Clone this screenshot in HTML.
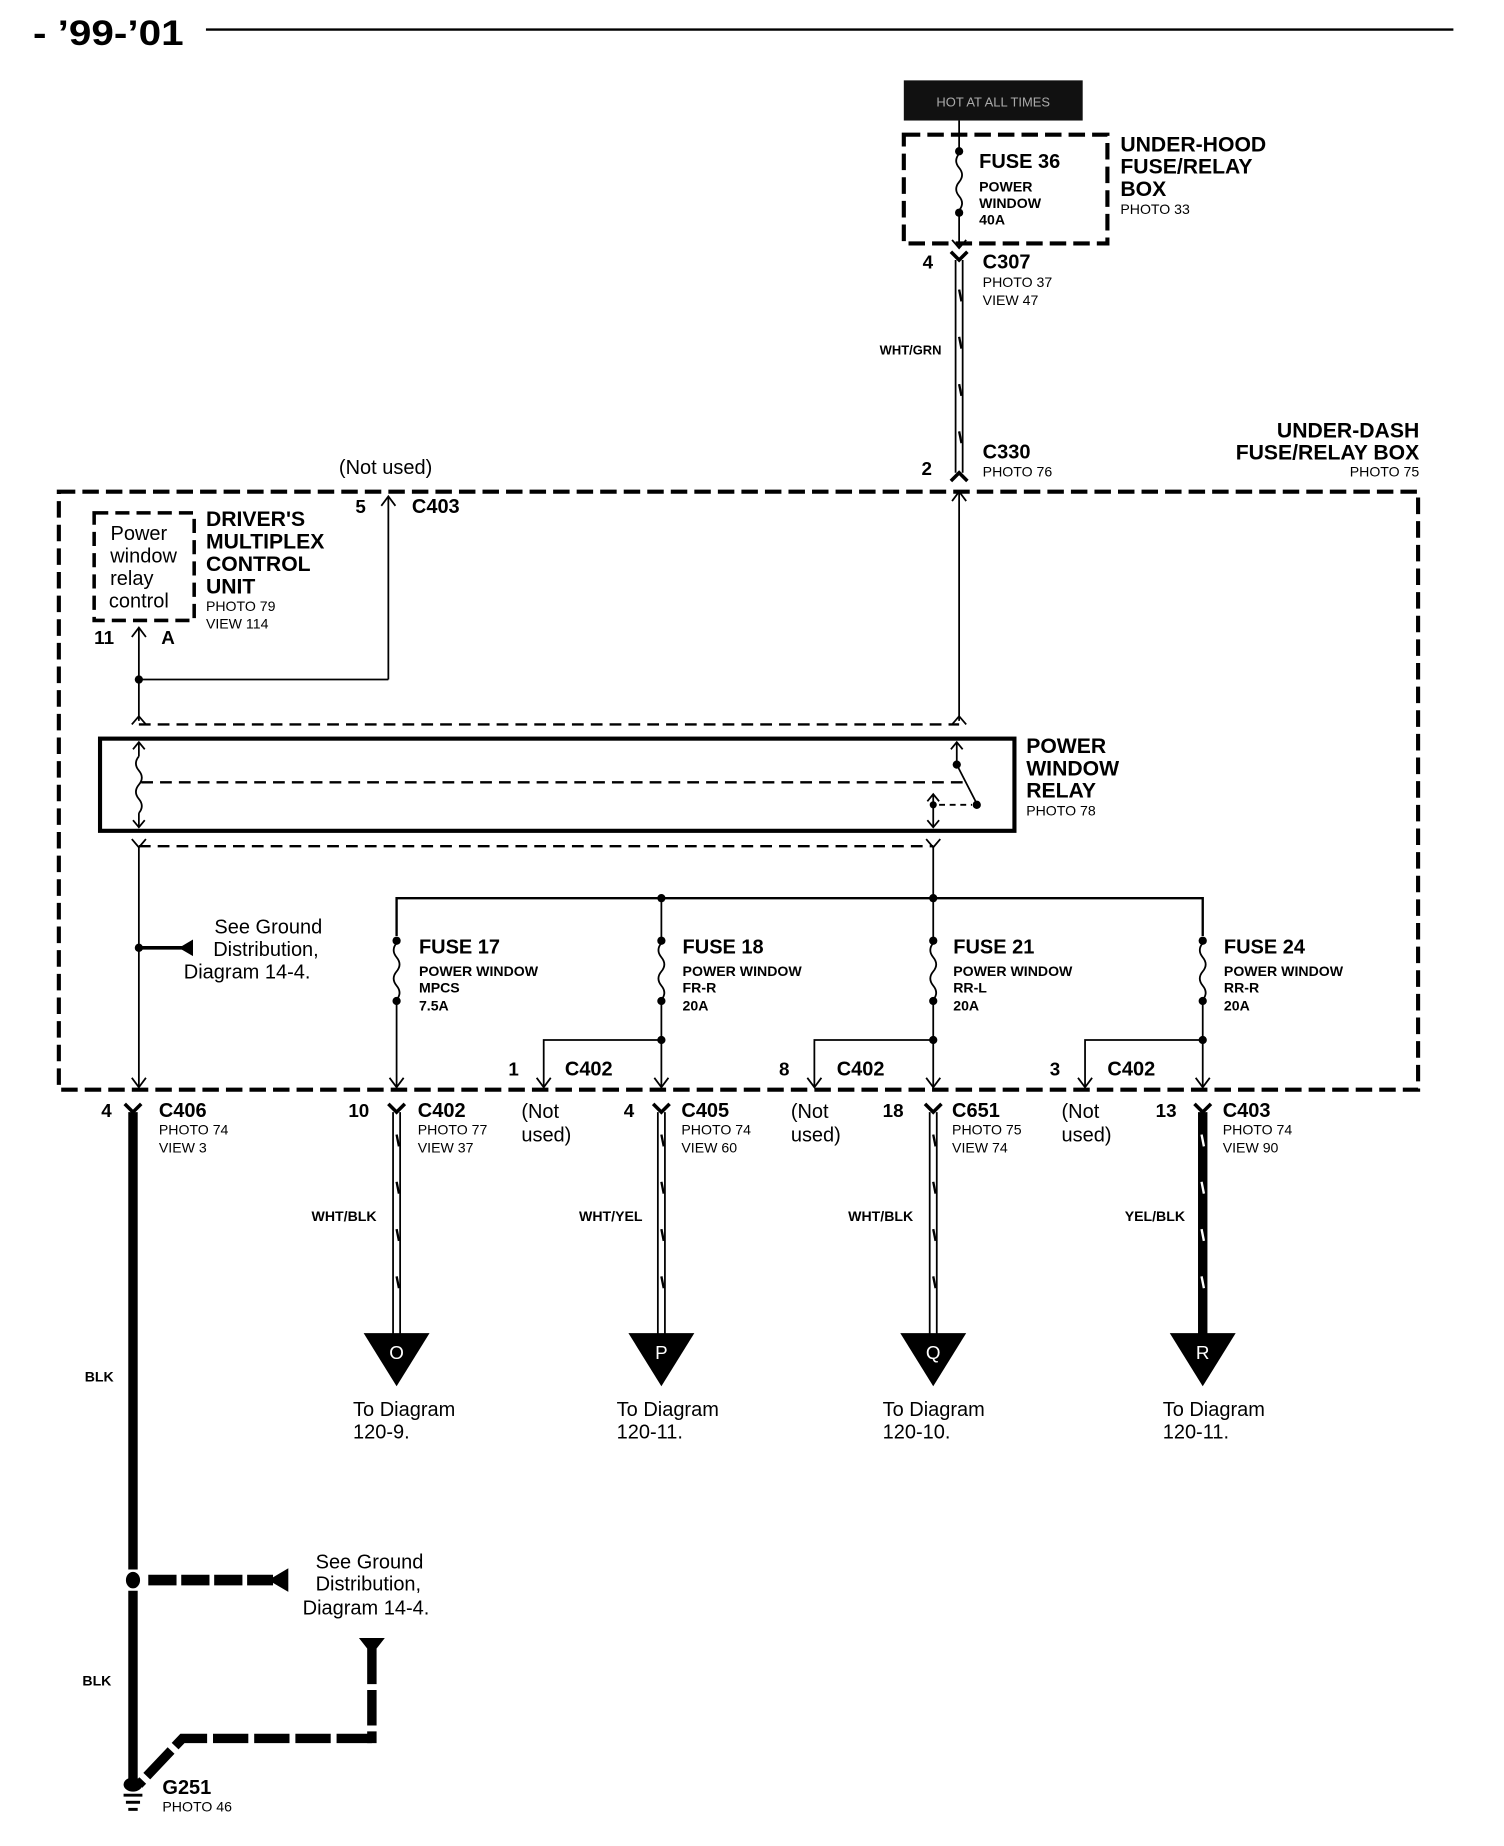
<!DOCTYPE html>
<html><head><meta charset="utf-8"><style>
html,body{margin:0;padding:0;background:#fff;}
svg{display:block;}
text{font-family:"Liberation Sans",sans-serif;fill:#000;}
.b{font-weight:bold;}
</style></head><body>
<svg width="1504" height="1846" viewBox="0 0 1278 1562" preserveAspectRatio="none" xmlns="http://www.w3.org/2000/svg">
<defs>
<g id="fz"><path d="M0,0 q-5,6 0,12 q5,6 0,12 q-5,6 0,12 q5,6 0,12" fill="none" stroke="#000" stroke-width="1.5"/></g>
</defs>
<g>
<!-- header -->
<text x="28" y="38" class="b" font-size="30" textLength="128" lengthAdjust="spacingAndGlyphs">- ’99-’01</text>
<line x1="175" y1="25" x2="1235" y2="25" stroke="#000" stroke-width="2"/>
<!-- hot at all times -->
<rect x="768" y="68" width="152" height="34" fill="#111"/>
<text x="844" y="90" font-size="11" style="fill:#aaa" text-anchor="middle">HOT AT ALL TIMES</text>
<!-- under-hood box -->
<rect x="768" y="114" width="173" height="92" fill="none" stroke="#000" stroke-width="3.5" stroke-dasharray="14,6"/>
<line x1="815" y1="102" x2="815" y2="128" stroke="#000" stroke-width="1.5"/>
<circle cx="815" cy="128" r="3.5"/>
<use href="#fz" x="815" y="130"/>
<circle cx="815" cy="180" r="3.5"/>
<line x1="815" y1="180" x2="815" y2="210" stroke="#000" stroke-width="1.5"/>
<path d="M809,203 L815,210 L821,203" fill="none" stroke="#000" stroke-width="1.5"/>
<text x="832" y="142" class="b" font-size="17">FUSE 36</text>
<text x="832" y="162" class="b" font-size="12">POWER</text>
<text x="832" y="176" class="b" font-size="12">WINDOW</text>
<text x="832" y="190" class="b" font-size="12">40A</text>
<text x="952" y="128" class="b" font-size="18">UNDER-HOOD</text>
<text x="952" y="147" class="b" font-size="18">FUSE/RELAY</text>
<text x="952" y="166" class="b" font-size="18">BOX</text>
<text x="952" y="181" font-size="12">PHOTO 33</text>
<!-- C307 -->
<path d="M808,213 L815,220 L822,213" fill="none" stroke="#000" stroke-width="3"/>
<text x="784" y="227" class="b" font-size="16">4</text>
<text x="835" y="227" class="b" font-size="17">C307</text>
<text x="835" y="243" font-size="12">PHOTO 37</text>
<text x="835" y="258" font-size="12">VIEW 47</text>
<line x1="812" y1="220" x2="812" y2="400" stroke="#000" stroke-width="1.5"/>
<line x1="818" y1="220" x2="818" y2="400" stroke="#000" stroke-width="1.5"/>
<path d="M815,245 l2,10 M815,285 l2,10 M815,325 l2,10 M815,365 l2,10" stroke="#000" stroke-width="2"/>
<text x="800" y="300" class="b" font-size="11" text-anchor="end">WHT/GRN</text>
<!-- C330 -->
<path d="M808,407 L815,400 L822,407" fill="none" stroke="#000" stroke-width="3"/>
<text x="783" y="402" class="b" font-size="16">2</text>
<text x="835" y="388" class="b" font-size="17">C330</text>
<text x="835" y="403" font-size="12">PHOTO 76</text>
<text x="1206" y="370" class="b" font-size="18" text-anchor="end">UNDER-DASH</text>
<text x="1206" y="389" class="b" font-size="18" text-anchor="end">FUSE/RELAY BOX</text>
<text x="1206" y="403" font-size="12" text-anchor="end">PHOTO 75</text>
<!-- main box -->
<rect x="50" y="416" width="1155" height="506" fill="none" stroke="#000" stroke-width="3.5" stroke-dasharray="14,6"/>
<text x="288" y="401" font-size="17">(Not used)</text>
<text x="302" y="434" class="b" font-size="16">5</text>
<text x="350" y="434" class="b" font-size="17">C403</text>
<line x1="330" y1="420" x2="330" y2="575" stroke="#000" stroke-width="1.5"/>
<path d="M324,428 L330,420 L336,428" fill="none" stroke="#000" stroke-width="1.5"/>
<line x1="815" y1="416" x2="815" y2="610" stroke="#000" stroke-width="1.5"/>
<path d="M809,424 L815,416 L821,424" fill="none" stroke="#000" stroke-width="1.5"/>
<!-- driver's unit -->
<rect x="80" y="434" width="85" height="91" fill="none" stroke="#000" stroke-width="3" stroke-dasharray="12,6"/>
<text x="118" y="457" font-size="17" text-anchor="middle">Power</text>
<text x="122" y="476" font-size="17" text-anchor="middle">window</text>
<text x="112" y="495" font-size="17" text-anchor="middle">relay</text>
<text x="118" y="514" font-size="17" text-anchor="middle">control</text>
<text x="175" y="445" class="b" font-size="18">DRIVER'S</text>
<text x="175" y="464" class="b" font-size="18">MULTIPLEX</text>
<text x="175" y="483" class="b" font-size="18">CONTROL</text>
<text x="175" y="502" class="b" font-size="18">UNIT</text>
<text x="175" y="517" font-size="12">PHOTO 79</text>
<text x="175" y="532" font-size="12">VIEW 114</text>
<text x="80" y="545" class="b" font-size="16">11</text>
<text x="137" y="545" class="b" font-size="16">A</text>
<line x1="118" y1="531" x2="118" y2="610" stroke="#000" stroke-width="1.5"/>
<path d="M112,539 L118,531 L124,539" fill="none" stroke="#000" stroke-width="1.5"/>
<circle cx="118" cy="575" r="3.5"/>
<line x1="118" y1="575" x2="330" y2="575" stroke="#000" stroke-width="1.5"/>
<line x1="118" y1="613" x2="815" y2="613" stroke="#000" stroke-width="2" stroke-dasharray="10,6"/>
<path d="M112,613 L118,606 L124,613 M809,613 L815,606 L821,613" fill="none" stroke="#000" stroke-width="1.5"/>
<!-- relay -->
<rect x="85" y="625" width="777" height="78" fill="none" stroke="#000" stroke-width="3.5"/>
<line x1="118" y1="628" x2="118" y2="640" stroke="#000" stroke-width="1.5"/>
<use href="#fz" x="118" y="640"/>
<line x1="118" y1="688" x2="118" y2="700" stroke="#000" stroke-width="1.5"/>
<path d="M113,634 L118,628 L123,634 M113,694 L118,700 L123,694" fill="none" stroke="#000" stroke-width="1.5"/>
<line x1="120" y1="662" x2="818" y2="662" stroke="#000" stroke-width="2" stroke-dasharray="10,6"/>
<line x1="813" y1="628" x2="813" y2="647" stroke="#000" stroke-width="1.5"/>
<path d="M808,634 L813,628 L818,634" fill="none" stroke="#000" stroke-width="1.5"/>
<circle cx="813" cy="647" r="3.5"/>
<line x1="813" y1="647" x2="830" y2="680" stroke="#000" stroke-width="1.5"/>
<circle cx="830" cy="681" r="3.5"/>
<line x1="798" y1="681" x2="826" y2="681" stroke="#000" stroke-width="1.5" stroke-dasharray="5,4"/>
<circle cx="793" cy="681" r="3"/>
<line x1="793" y1="672" x2="793" y2="700" stroke="#000" stroke-width="1.5"/>
<path d="M788,678 L793,672 L798,678 M788,694 L793,700 L798,694" fill="none" stroke="#000" stroke-width="1.5"/>
<text x="872" y="637" class="b" font-size="18">POWER</text>
<text x="872" y="656" class="b" font-size="18">WINDOW</text>
<text x="872" y="675" class="b" font-size="18">RELAY</text>
<text x="872" y="690" font-size="12">PHOTO 78</text>
<line x1="118" y1="716" x2="793" y2="716" stroke="#000" stroke-width="2" stroke-dasharray="10,6"/>
<path d="M112,710 L118,717 L124,710 M787,710 L793,717 L799,710" fill="none" stroke="#000" stroke-width="1.5"/>
<line x1="118" y1="717" x2="118" y2="920" stroke="#000" stroke-width="1.5"/>
<circle cx="118" cy="802" r="3.5"/>
<line x1="118" y1="802" x2="155" y2="802" stroke="#000" stroke-width="3"/>
<polygon points="164,795 152,802 164,809" fill="#000"/>
<text x="228" y="790" font-size="17" text-anchor="middle">See Ground</text>
<text x="226" y="809" font-size="17" text-anchor="middle">Distribution,</text>
<text x="210" y="828" font-size="17" text-anchor="middle">Diagram 14-4.</text>
<!-- bus -->
<line x1="793" y1="717" x2="793" y2="760" stroke="#000" stroke-width="1.5"/>
<path d="M337,792 L337,760 L1022,760 L1022,792" fill="none" stroke="#000" stroke-width="2"/>
<circle cx="562" cy="760" r="3.5"/><circle cx="793" cy="760" r="3.5"/>
<g stroke="#000" stroke-width="1.5" fill="none">
<line x1="562" y1="760" x2="562" y2="795"/><line x1="793" y1="760" x2="793" y2="795"/>
</g>
<!-- fuses -->
<g>
<circle cx="337" cy="796" r="3.5"/><use href="#fz" x="337" y="798"/><circle cx="337" cy="847" r="3.5"/>
<circle cx="562" cy="796" r="3.5"/><use href="#fz" x="562" y="798"/><circle cx="562" cy="847" r="3.5"/>
<circle cx="793" cy="796" r="3.5"/><use href="#fz" x="793" y="798"/><circle cx="793" cy="847" r="3.5"/>
<circle cx="1022" cy="796" r="3.5"/><use href="#fz" x="1022" y="798"/><circle cx="1022" cy="847" r="3.5"/>
</g>
<g>
<text x="356" y="807" class="b" font-size="17">FUSE 17</text>
<text x="356" y="826" class="b" font-size="12">POWER WINDOW</text>
<text x="356" y="840" class="b" font-size="12">MPCS</text>
<text x="356" y="855" class="b" font-size="12">7.5A</text>
<text x="580" y="807" class="b" font-size="17">FUSE 18</text>
<text x="580" y="826" class="b" font-size="12">POWER WINDOW</text>
<text x="580" y="840" class="b" font-size="12">FR-R</text>
<text x="580" y="855" class="b" font-size="12">20A</text>
<text x="810" y="807" class="b" font-size="17">FUSE 21</text>
<text x="810" y="826" class="b" font-size="12">POWER WINDOW</text>
<text x="810" y="840" class="b" font-size="12">RR-L</text>
<text x="810" y="855" class="b" font-size="12">20A</text>
<text x="1040" y="807" class="b" font-size="17">FUSE 24</text>
<text x="1040" y="826" class="b" font-size="12">POWER WINDOW</text>
<text x="1040" y="840" class="b" font-size="12">RR-R</text>
<text x="1040" y="855" class="b" font-size="12">20A</text>
</g>
<g stroke="#000" stroke-width="1.5" fill="none">
<line x1="337" y1="847" x2="337" y2="920"/>
<line x1="562" y1="847" x2="562" y2="920"/>
<line x1="793" y1="847" x2="793" y2="920"/>
<line x1="1022" y1="847" x2="1022" y2="920"/>
<path d="M562,880 L462,880 L462,920 M793,880 L692,880 L692,920 M1022,880 L922,880 L922,920"/>
<path d="M331,912 L337,920 L343,912 M556,912 L562,920 L568,912 M787,912 L793,920 L799,912 M1016,912 L1022,920 L1028,912 M456,912 L462,920 L468,912 M686,912 L692,920 L698,912 M916,912 L922,920 L928,912 M112,912 L118,920 L124,912"/>
</g>
<circle cx="562" cy="880" r="3.5"/><circle cx="793" cy="880" r="3.5"/><circle cx="1022" cy="880" r="3.5"/>
<text x="432" y="910" class="b" font-size="16">1</text><text x="480" y="910" class="b" font-size="17">C402</text>
<text x="662" y="910" class="b" font-size="16">8</text><text x="711" y="910" class="b" font-size="17">C402</text>
<text x="892" y="910" class="b" font-size="16">3</text><text x="941" y="910" class="b" font-size="17">C402</text>
<!-- bottom connectors -->
<g stroke="#000" stroke-width="3" fill="none">
<path d="M106,934 L113,941 L120,934 M330,934 L337,941 L344,934 M555,934 L562,941 L569,934 M786,934 L793,941 L800,934 M1015,934 L1022,941 L1029,934"/>
</g>
<g>
<text x="86" y="945" class="b" font-size="16">4</text><text x="135" y="945" class="b" font-size="17">C406</text>
<text x="296" y="945" class="b" font-size="16">10</text><text x="355" y="945" class="b" font-size="17">C402</text>
<text x="530" y="945" class="b" font-size="16">4</text><text x="579" y="945" class="b" font-size="17">C405</text>
<text x="750" y="945" class="b" font-size="16">18</text><text x="809" y="945" class="b" font-size="17">C651</text>
<text x="982" y="945" class="b" font-size="16">13</text><text x="1039" y="945" class="b" font-size="17">C403</text>
</g>
<g font-size="12">
<text x="135" y="960">PHOTO 74</text><text x="135" y="975">VIEW 3</text>
<text x="355" y="960">PHOTO 77</text><text x="355" y="975">VIEW 37</text>
<text x="579" y="960">PHOTO 74</text><text x="579" y="975">VIEW 60</text>
<text x="809" y="960">PHOTO 75</text><text x="809" y="975">VIEW 74</text>
<text x="1039" y="960">PHOTO 74</text><text x="1039" y="975">VIEW 90</text>
</g>
<g font-size="17">
<text x="443" y="946">(Not</text><text x="443" y="966">used)</text>
<text x="672" y="946">(Not</text><text x="672" y="966">used)</text>
<text x="902" y="946">(Not</text><text x="902" y="966">used)</text>
</g>
<!-- output wires -->
<g stroke="#000" stroke-width="1.5">
<line x1="334" y1="941" x2="334" y2="1130"/><line x1="340" y1="941" x2="340" y2="1130"/>
<line x1="559" y1="941" x2="559" y2="1130"/><line x1="565" y1="941" x2="565" y2="1130"/>
<line x1="790" y1="941" x2="790" y2="1130"/><line x1="796" y1="941" x2="796" y2="1130"/>
</g>
<g stroke="#000" stroke-width="2">
<path d="M337,960 l2,10 M337,1000 l2,10 M337,1040 l2,10 M337,1080 l2,10"/>
<path d="M562,960 l2,10 M562,1000 l2,10 M562,1040 l2,10 M562,1080 l2,10"/>
<path d="M793,960 l2,10 M793,1000 l2,10 M793,1040 l2,10 M793,1080 l2,10"/>
</g>
<line x1="1022" y1="941" x2="1022" y2="1130" stroke="#000" stroke-width="8"/>
<path d="M1021,960 l2,10 M1021,1000 l2,10 M1021,1040 l2,10 M1021,1080 l2,10" stroke="#fff" stroke-width="2"/>
<g text-anchor="end">
<text x="320" y="1033" class="b" font-size="12">WHT/BLK</text>
<text x="546" y="1033" class="b" font-size="12">WHT/YEL</text>
<text x="776" y="1033" class="b" font-size="12">WHT/BLK</text>
<text x="1007" y="1033" class="b" font-size="12">YEL/BLK</text>
</g>
<g>
<polygon points="309,1128 365,1128 337,1173"/>
<polygon points="534,1128 590,1128 562,1173"/>
<polygon points="765,1128 821,1128 793,1173"/>
<polygon points="994,1128 1050,1128 1022,1173"/>
</g>
<g font-size="16" text-anchor="middle">
<text x="337" y="1150" style="fill:#fff">O</text>
<text x="562" y="1150" style="fill:#fff">P</text>
<text x="793" y="1150" style="fill:#fff">Q</text>
<text x="1022" y="1150" style="fill:#fff">R</text>
</g>
<g font-size="17">
<text x="300" y="1198">To Diagram</text><text x="300" y="1217">120-9.</text>
<text x="524" y="1198">To Diagram</text><text x="524" y="1217">120-11.</text>
<text x="750" y="1198">To Diagram</text><text x="750" y="1217">120-10.</text>
<text x="988" y="1198">To Diagram</text><text x="988" y="1217">120-11.</text>
</g>
<!-- BLK ground wire -->
<line x1="113" y1="941" x2="113" y2="1328" stroke="#000" stroke-width="8"/>
<line x1="113" y1="1346" x2="113" y2="1508" stroke="#000" stroke-width="8"/>
<ellipse cx="113" cy="1337" rx="6" ry="7"/>
<line x1="126" y1="1337" x2="232" y2="1337" stroke="#000" stroke-width="9" stroke-dasharray="24,4"/>
<polygon points="245,1327 228,1337 245,1347"/>
<text x="72" y="1169" class="b" font-size="12">BLK</text>
<text x="70" y="1426" class="b" font-size="12">BLK</text>
<text x="314" y="1327" font-size="17" text-anchor="middle">See Ground</text>
<text x="313" y="1346" font-size="17" text-anchor="middle">Distribution,</text>
<text x="311" y="1366" font-size="17" text-anchor="middle">Diagram 14-4.</text>
<polygon points="305,1386 327,1386 316,1400"/>
<line x1="316" y1="1395" x2="316" y2="1475" stroke="#000" stroke-width="8" stroke-dasharray="30,5"/>
<path d="M316,1471 L155,1471 L118,1510" fill="none" stroke="#000" stroke-width="8" stroke-dasharray="30,5"/>
<ellipse cx="113" cy="1510" rx="8" ry="6"/>
<line x1="105" y1="1519" x2="121" y2="1519" stroke="#000" stroke-width="2.5"/>
<line x1="107" y1="1525" x2="119" y2="1525" stroke="#000" stroke-width="2.5"/>
<line x1="109" y1="1531" x2="117" y2="1531" stroke="#000" stroke-width="2.5"/>
<text x="138" y="1518" class="b" font-size="17">G251</text>
<text x="138" y="1533" font-size="12">PHOTO 46</text>
</g>
</svg>
</body></html>
